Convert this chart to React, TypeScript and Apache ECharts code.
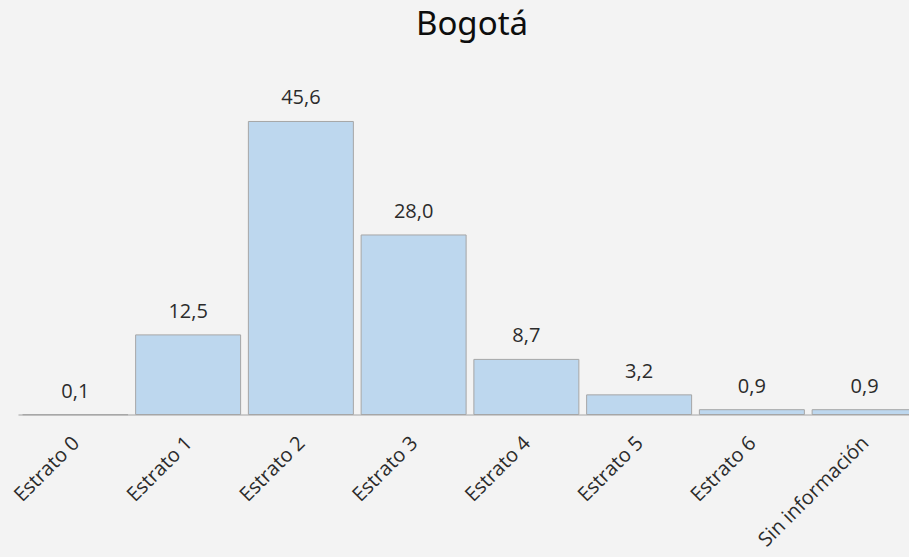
import React, { useEffect, useRef } from "react";
import * as echarts from "echarts";

const categories = ["Estrato 0", "Estrato 1", "Estrato 2", "Estrato 3", "Estrato 4", "Estrato 5", "Estrato 6", "Sin información"];
const values = [0.1, 12.5, 45.6, 28.0, 8.7, 3.2, 0.9, 0.9];
const titleText = "Bogotá";

export default function App() {
  const ref = useRef<HTMLDivElement>(null);
  useEffect(() => {
    if (!ref.current) return;
    const chart = echarts.init(ref.current, undefined, { renderer: "svg" });
    chart.setOption({
      animation: false,
      backgroundColor: "#f3f3f3",
      title: {
        text: titleText,
        left: 467,
        textAlign: "center",
        top: 1,
        textStyle: { fontFamily: "Noto Sans", fontSize: 33, fontWeight: "normal", color: "#0d0d0d" },
      },
      grid: { left: 19, right: 0, top: 92.6, bottom: 142, containLabel: false },
      xAxis: {
        type: "category",
        data: categories,
        axisLine: { lineStyle: { color: "#bfbfbf", width: 1.5 } },
        axisTick: { show: false },
        axisLabel: {
          rotate: 45,
          interval: 0,
          margin: 24,
          fontFamily: "Open Sans",
          fontSize: 20,
          color: "#2b2b2b",
        },
      },
      yAxis: {
        type: "value",
        min: 0,
        max: 50,
        show: false,
      },
      series: [
        {
          type: "bar",
          data: values,
          barCategoryGap: "6%",
          itemStyle: { color: "#bdd7ee", borderColor: "#a6a6a6", borderWidth: 1 },
          label: {
            show: true,
            position: "top",
            distance: 14,
            fontFamily: "Open Sans",
            fontSize: 20,
            color: "#2b2b2b",
            formatter: (p: any) => p.value.toFixed(1).replace(".", ","),
          },
        },
      ],
    });
    return () => chart.dispose();
  }, []);
  return (
    <div style={{ position: "absolute", left: 0, top: 0, width: 909, height: 557, overflow: "hidden" }}>
      <div ref={ref} style={{ width: 921, height: 557 }} />
    </div>
  );
}
